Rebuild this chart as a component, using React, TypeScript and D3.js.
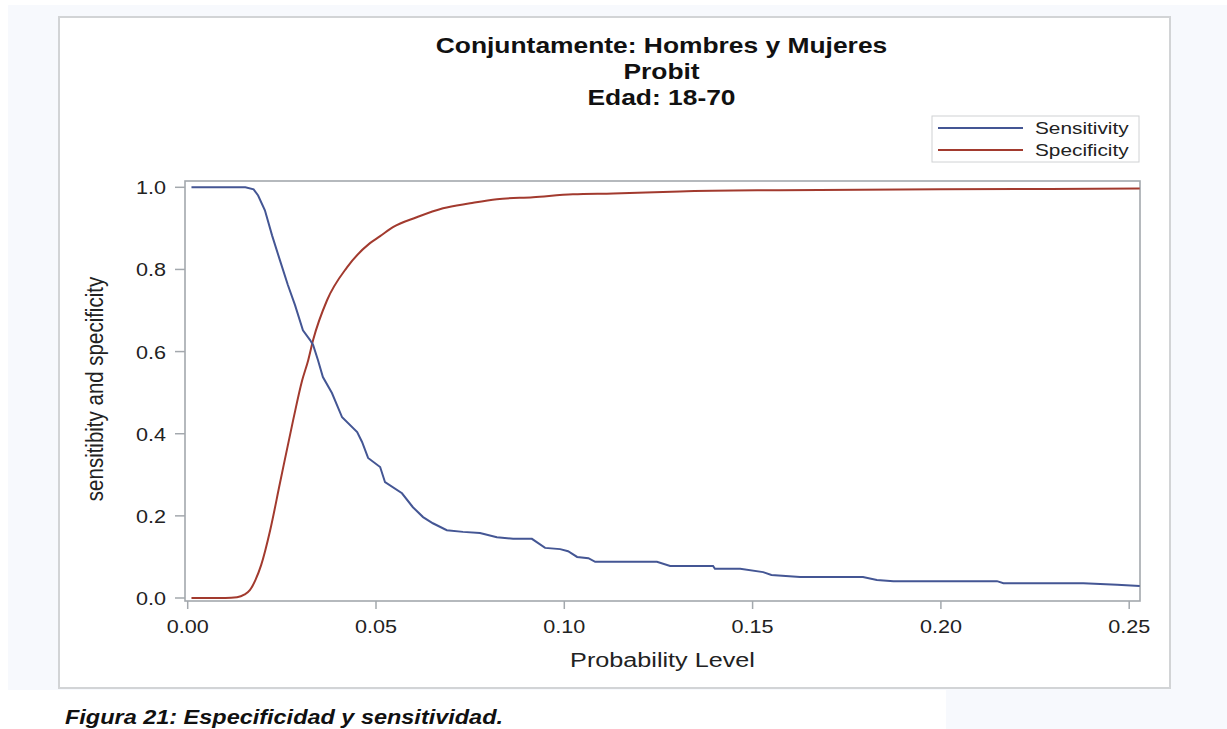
import React from "react";
import * as d3 from "d3";

const titleLines = ["Conjuntamente: Hombres y Mujeres", "Probit", "Edad: 18-70"];
const xTicks = [0, 0.05, 0.1, 0.15, 0.2, 0.25];
const yTicks = [0, 0.2, 0.4, 0.6, 0.8, 1.0];
const seriesNames = ["Sensitivity", "Specificity"];
const seriesColors = ["#445694", "#A23A2E"];

const sensX = [0.001, 0.0153, 0.0175, 0.0187, 0.0205, 0.0224, 0.0245, 0.0266, 0.0285, 0.0306, 0.0325, 0.0333, 0.0346, 0.0359, 0.0383, 0.041, 0.045, 0.0463, 0.0479, 0.0511, 0.0524, 0.0569, 0.0598, 0.0625, 0.0651, 0.0688, 0.0731, 0.0776, 0.0821, 0.0864, 0.0914, 0.0949, 0.0989, 0.101, 0.1034, 0.1064, 0.1082, 0.1246, 0.1281, 0.1395, 0.14, 0.1467, 0.1528, 0.155, 0.1626, 0.1793, 0.183, 0.1874, 0.2149, 0.2166, 0.2378, 0.2468, 0.2528];
const sensY = [1.0, 1.0, 0.995, 0.98, 0.944, 0.883, 0.822, 0.762, 0.713, 0.652, 0.628, 0.616, 0.579, 0.538, 0.499, 0.44, 0.404, 0.38, 0.341, 0.319, 0.282, 0.255, 0.221, 0.197, 0.182, 0.165, 0.161, 0.158, 0.148, 0.144, 0.144, 0.122, 0.119, 0.114, 0.1, 0.097, 0.088, 0.088, 0.078, 0.078, 0.071, 0.071, 0.063, 0.056, 0.051, 0.051, 0.044, 0.041, 0.041, 0.036, 0.036, 0.032, 0.029];

const specX = [0.001, 0.01, 0.0131, 0.015, 0.0165, 0.018, 0.0195, 0.0219, 0.0245, 0.028, 0.0304, 0.032, 0.0333, 0.037, 0.0423, 0.0484, 0.0511, 0.0545, 0.0608, 0.0678, 0.075, 0.0821, 0.0917, 0.1023, 0.113, 0.1307, 0.157, 0.2, 0.2528];
const specY = [0.0, 0.0, 0.002, 0.008, 0.019, 0.044, 0.08, 0.165, 0.28, 0.433, 0.53, 0.579, 0.628, 0.725, 0.805, 0.864, 0.881, 0.903, 0.927, 0.949, 0.961, 0.971, 0.976, 0.983, 0.985, 0.99, 0.993, 0.995, 0.997];

const FONT = "'Liberation Sans', Arial, sans-serif";
const SX = 1.2;

function T(props: any) {
  const { x, y, sx = SX, sy = 1, rotate = 0, children, ...rest } = props;
  return (
    <text
      transform={`translate(${x},${y}) rotate(${rotate}) scale(${sx},${sy})`}
      fontFamily={FONT}
      {...rest}
    >
      {children}
    </text>
  );
}

export default function App() {
  const x = d3.scaleLinear().domain([0, 0.25]).range([187.7, 1129.2]);
  const y = d3.scaleLinear().domain([0, 1]).range([598, 187.3]);
  const frame = { l: 185, r: 1140, t: 181, b: 601 };

  const sens = sensX.map((v, i) => [v, sensY[i]] as [number, number]);
  const spec = specX.map((v, i) => [v, specY[i]] as [number, number]);
  const lineLin = d3.line<[number, number]>().x((d) => x(d[0])).y((d) => y(d[1]));
  const lineSmooth = d3
    .line<[number, number]>()
    .x((d) => x(d[0]))
    .y((d) => y(d[1]))
    .curve(d3.curveMonotoneX);

  const fx = d3.format(".2f");
  const fy = d3.format(".1f");
  const axisColor = "#a3a8ad";
  const textColor = "#222";

  return (
    <svg
      width={1227}
      height={729}
      style={{ position: "absolute", left: 0, top: 0, display: "block" }}
    >
      <rect x={0} y={0} width={1227} height={729} fill="#ffffff" />
      <rect x={8} y={5} width={1219} height={724} fill="#f7f9fd" />
      <rect x={0} y={690} width={946} height={39} fill="#ffffff" />
      <rect x={59} y={17} width={1111} height={671} fill="#ffffff" stroke="#d2d4d6" strokeWidth={2} />

      {titleLines.map((t, i) => (
        <T key={i} x={661.5} y={53 + i * 26} textAnchor="middle" fontSize={22} fontWeight="bold" fill="#111">
          {t}
        </T>
      ))}

      {/* legend */}
      <rect x={932} y={116} width={207} height={46} fill="#fff" stroke="#d0d2d4" strokeWidth={1} />
      {seriesNames.map((n, i) => (
        <g key={n}>
          <line x1={938} x2={1023} y1={128 + i * 22} y2={128 + i * 22} stroke={seriesColors[i]} strokeWidth={2} />
          <T x={1035} y={134 + i * 22} fontSize={16} fill={textColor} sx={1.3}>
            {n}
          </T>
        </g>
      ))}

      {/* frame */}
      <rect x={frame.l} y={frame.t} width={frame.r - frame.l} height={frame.b - frame.t} fill="#fff" stroke={axisColor} strokeWidth={1.6} />

      {/* y ticks */}
      {yTicks.map((t) => (
        <g key={t}>
          <line x1={frame.l - 10} x2={frame.l} y1={y(t)} y2={y(t)} stroke={axisColor} strokeWidth={1.5} />
          <T x={166} y={y(t) + 7} textAnchor="end" fontSize={18} fill={textColor}>
            {fy(t)}
          </T>
        </g>
      ))}

      {/* x ticks */}
      {xTicks.map((t) => (
        <g key={t}>
          <line x1={x(t)} x2={x(t)} y1={frame.b} y2={frame.b + 8} stroke={axisColor} strokeWidth={1.5} />
          <T x={x(t)} y={633} textAnchor="middle" fontSize={18} fill={textColor}>
            {fx(t)}
          </T>
        </g>
      ))}

      {/* axis labels */}
      <T x={662.5} y={667} textAnchor="middle" fontSize={21} fill={textColor}>
        Probability Level
      </T>
      <T x={103} y={389} rotate={-90} sx={1} sy={1.2} textAnchor="middle" fontSize={20.5} fill={textColor}>
        sensitibity and specificity
      </T>

      {/* curves */}
      <path d={lineSmooth(spec) || ""} fill="none" stroke={seriesColors[1]} strokeWidth={2} />
      <path d={lineLin(sens) || ""} fill="none" stroke={seriesColors[0]} strokeWidth={2} />

      {/* caption */}
      <text
        x={65}
        y={724}
        fontFamily={FONT}
        fontSize={19.5}
        fontWeight="bold"
        fontStyle="italic"
        fill="#111"
        textLength={438}
        lengthAdjust="spacingAndGlyphs"
      >
        Figura 21: Especificidad y sensitividad.
      </text>
    </svg>
  );
}
